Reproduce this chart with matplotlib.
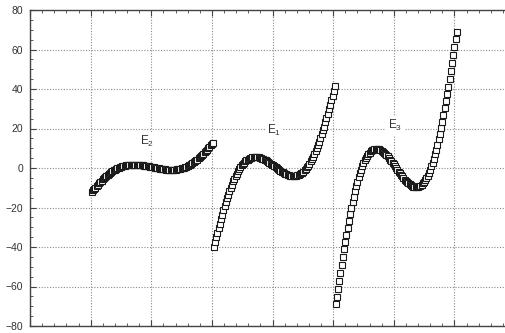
import numpy as np
import matplotlib
matplotlib.use("Agg")
import matplotlib.pyplot as plt
from matplotlib.ticker import MultipleLocator

plt.rcParams['font.family'] = ['Liberation Sans', 'DejaVu Sans']
plt.rcParams['mathtext.default'] = 'regular'

# sampling offsets (x relative to each curve's centre), 101 points
t_grid = np.round(np.arange(-50, 51) * 0.02, 2)

series_labels = ['E$_2$', 'E$_1$', 'E$_3$']
series_centers = [2.02, 4.03, 6.04]

E2 = [-12.0, -11.3, -10.6, -9.9, -9.2, -8.5, -7.8, -7.1, -6.5, -5.8,
      -5.2, -4.6, -4.1, -3.5, -3.0, -2.5, -2.1, -1.6, -1.2, -0.9,
      -0.5, -0.2, 0.1, 0.4, 0.6, 0.8, 1.0, 1.2, 1.3, 1.4,
      1.5, 1.6, 1.6, 1.7, 1.7, 1.7, 1.7, 1.7, 1.6, 1.6,
      1.5, 1.4, 1.3, 1.2, 1.1, 1.0, 0.9, 0.8, 0.65, 0.5,
      0.4,
      0.3, 0.15, 0.0, -0.1, -0.2, -0.3, -0.4, -0.5, -0.6, -0.7,
      -0.8, -0.8, -0.9, -0.9, -0.9, -0.9, -0.9, -0.8, -0.8, -0.7,
      -0.6, -0.5, -0.4, -0.2, 0.0, 0.2, 0.4, 0.7, 1.0, 1.3,
      1.7, 2.0, 2.4, 2.9, 3.3, 3.8, 4.3, 4.9, 5.4, 6.0,
      6.6, 7.3, 7.9, 8.6, 9.3, 10.0, 10.7, 11.4, 12.1, 12.9]

E1 = [-39.8, -37.5, -35.1, -32.8, -30.5, -28.2, -25.9, -23.7, -21.5, -19.4,
      -17.4, -15.4, -13.5, -11.7, -10.0, -8.4, -6.8, -5.4, -4.1, -2.8,
      -1.7, -0.6, 0.4, 1.3, 2.0, 2.7, 3.4, 3.9, 4.3, 4.7,
      5.0, 5.3, 5.4, 5.5, 5.6, 5.5, 5.5, 5.4, 5.2, 5.0,
      4.7, 4.4, 4.1, 3.8, 3.4, 3.0, 2.6, 2.1, 1.7, 1.3,
      0.8,
      0.3, -0.1, -0.5, -1.0, -1.4, -1.8, -2.2, -2.5, -2.8, -3.1,
      -3.4, -3.6, -3.8, -3.9, -3.9, -4.0, -3.9, -3.8, -3.7, -3.4,
      -3.1, -2.7, -2.3, -1.8, -1.1, -0.4, 0.3, 1.2, 2.2, 3.3,
      4.4, 5.7, 7.0, 8.4, 10.0, 11.6, 13.3, 15.1, 17.0, 19.0,
      21.0, 23.1, 25.3, 27.5, 29.8, 32.1, 34.4, 36.7, 39.1, 41.4]

E3 = [-69.0, -65.1, -61.1, -57.0, -53.0, -49.0, -45.1, -41.2, -37.4, -33.8,
      -30.2, -26.8, -23.5, -20.3, -17.3, -14.5, -11.8, -9.2, -6.9, -4.7,
      -2.6, -0.8, 0.9, 2.4, 3.8, 5.0, 6.1, 7.0, 7.8, 8.4,
      8.9, 9.3, 9.6, 9.7, 9.7, 9.6, 9.4, 9.1, 8.8, 8.3,
      7.8, 7.2, 6.6, 5.9, 5.1, 4.3, 3.5, 2.6, 1.8, 0.9,
      0.0,
      -0.9, -1.8, -2.6, -3.5, -4.3, -5.1, -5.9, -6.6, -7.2, -7.8,
      -8.3, -8.8, -9.1, -9.4, -9.6, -9.7, -9.7, -9.6, -9.3, -8.9,
      -8.4, -7.8, -7.0, -6.1, -5.0, -3.8, -2.4, -0.9, 0.8, 2.6,
      4.7, 6.9, 9.2, 11.8, 14.5, 17.3, 20.3, 23.5, 26.8, 30.2,
      33.8, 37.4, 41.2, 45.1, 49.0, 53.0, 57.0, 61.1, 65.1, 69.0]

label_x = [1.815, 3.905, 5.913]
label_y = [11.6, 17.2, 19.6]

fig = plt.figure(figsize=(5.06, 3.33), dpi=100)
fig.patch.set_facecolor('white')
ax = fig.add_axes([30 / 506, 7 / 333, 485 / 506, 316 / 333])
ax.set_axisbelow(True)

for vals, c in zip([E2, E1, E3], series_centers):
    ax.plot(c + t_grid, vals, ls='none', marker='s', ms=4.6,
            mfc='white', mec='#1a1a1a', mew=0.8)

for lab, lx, ly in zip(series_labels, label_x, label_y):
    ax.text(lx, ly, lab, fontsize=8.5, color='#333333', ha='left', va='baseline',
            bbox=dict(fc='white', ec='none', pad=1.5), zorder=3)

ax.set_xlim(0, 8)
ax.set_ylim(-80, 80)
ax.xaxis.set_major_locator(MultipleLocator(1))
ax.xaxis.set_minor_locator(MultipleLocator(0.2))
ax.yaxis.set_major_locator(MultipleLocator(20))
ax.yaxis.set_minor_locator(MultipleLocator(5))
ax.grid(True, which='major', ls=(0, (1, 1.5)), color='#8a8a8a', lw=0.8)
ax.tick_params(which='both', direction='in', top=True, right=False,
               labelbottom=False, labelsize=7.5, labelcolor='#333333', color='#444444')
ax.tick_params(which='major', length=4, pad=5)
ax.tick_params(which='minor', length=2.5)
for s in ['left', 'top', 'bottom']:
    ax.spines[s].set_color('#444444')
    ax.spines[s].set_linewidth(1.0)
ax.spines['right'].set_visible(False)

fig.savefig('out.png', dpi=100, facecolor='white')
